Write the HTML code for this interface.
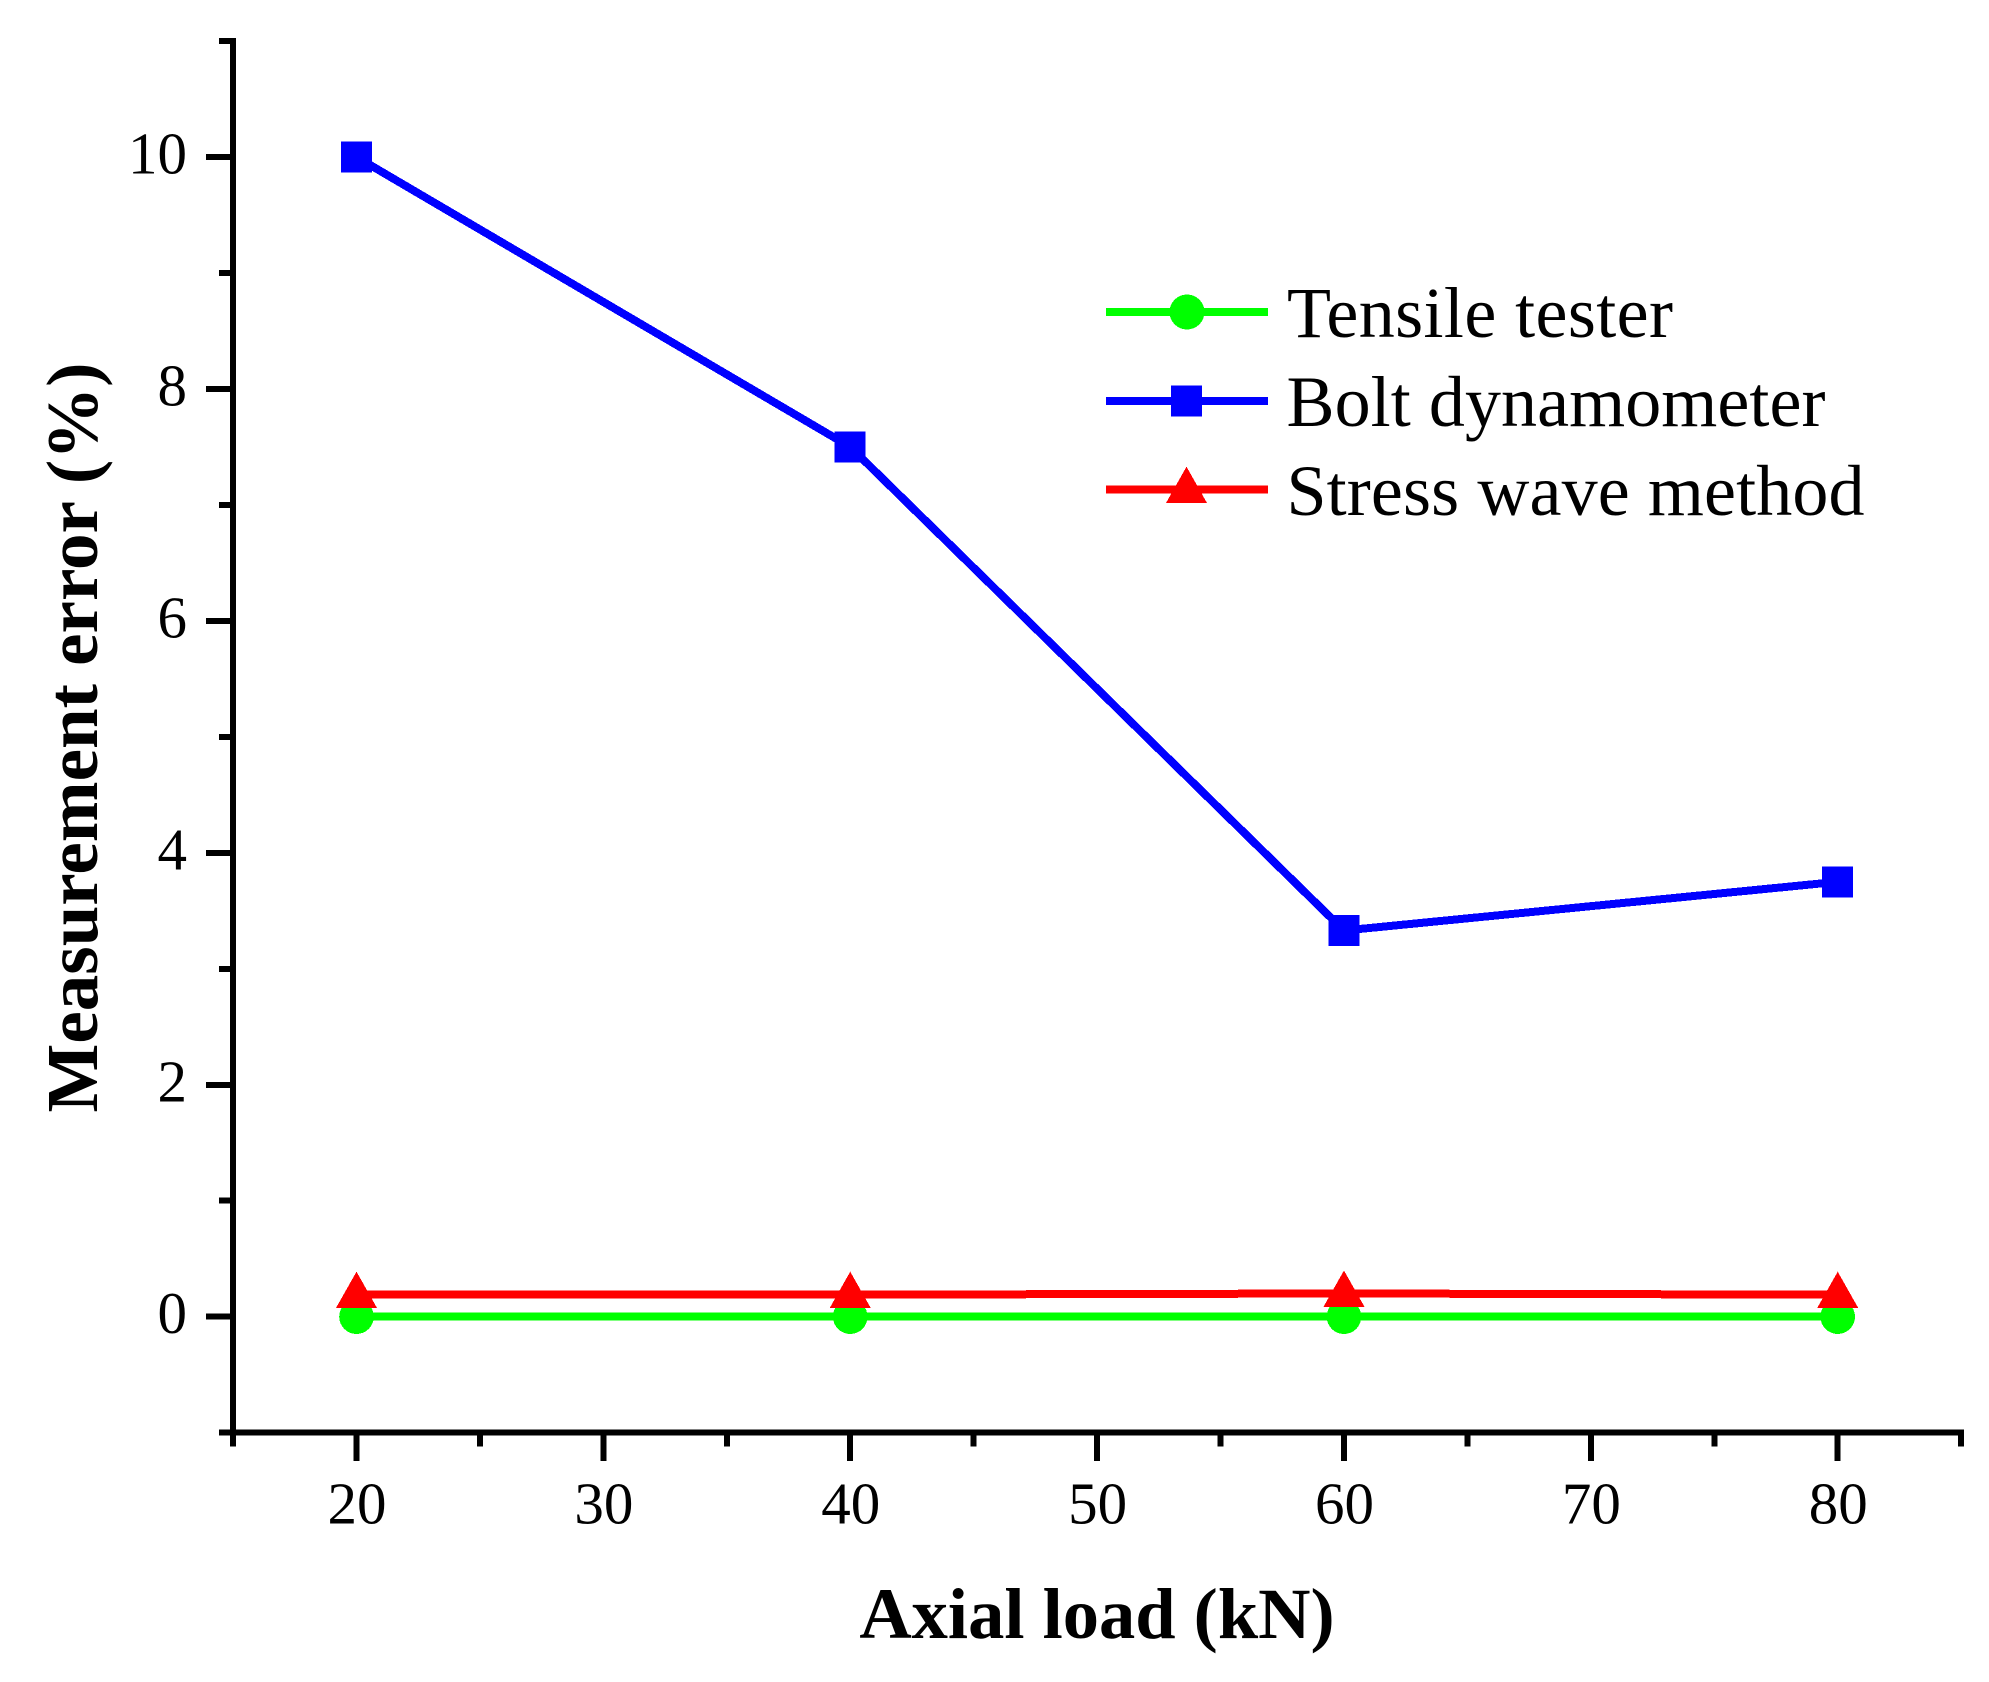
<!DOCTYPE html>
<html lang="en">
<head>
<meta charset="utf-8">
<title>Measurement error vs axial load</title>
<style>
html,body{margin:0;padding:0;background:#fff;width:1989px;height:1682px;overflow:hidden}
svg{display:block}
text{font-family:"Liberation Serif","Times New Roman",serif;fill:#000}
line,polyline,polygon,rect,circle{shape-rendering:crispEdges}
</style>
</head>
<body>
<svg id="chart" xmlns="http://www.w3.org/2000/svg" width="1989" height="1682" viewBox="0 0 1989 1682">
  <rect x="0" y="0" width="1989" height="1682" fill="#fff"/>
  <g id="axes"></g>
  <g id="series"></g>
  <text x="1097" y="1638" font-size="72.5" font-weight="bold" text-anchor="middle">Axial load (kN)</text>
  <text x="0" y="0" font-size="73" font-weight="bold" text-anchor="middle" transform="translate(97 737.5) rotate(-90)">Measurement error (%)</text>
  <g>
    <g>
      <line x1="1106" x2="1268" y1="312" y2="312" stroke="#00ff00" stroke-width="8"/>
      <circle cx="1187" cy="312" r="17.5" fill="#00ff00"/>
      <text x="1287" y="337" font-size="72" textLength="386">Tensile tester</text>
    </g>
    <g>
      <line x1="1106" x2="1268" y1="401" y2="401" stroke="#0000ff" stroke-width="8"/>
      <rect x="1171" y="385.5" width="31" height="31" fill="#0000ff"/>
      <text x="1286.5" y="426" font-size="72" textLength="539">Bolt dynamometer</text>
    </g>
    <g>
      <line x1="1106" x2="1268" y1="489.7" y2="489.7" stroke="#ff0000" stroke-width="8"/>
      <polygon points="1186.5,466.7 1207,503 1166,503" fill="#ff0000"/>
      <text x="1286.5" y="515" font-size="72" textLength="578">Stress wave method</text>
    </g>
  </g>
</svg>
<script>
var categories = [20, 40, 60, 80];
var tensileValues = [0, 0, 0, 0];
var boltValues = [10, 7.5, 3.33, 3.75];
var stressValues = [0.19, 0.19, 0.2, 0.19];
var xMajorTicks = [20, 30, 40, 50, 60, 70, 80];
var xMinorTicks = [15, 25, 35, 45, 55, 65, 75, 85];
var yMajorTicks = [0, 2, 4, 6, 8, 10];
var yMinorTicks = [-1, 1, 3, 5, 7, 9, 11];

var NS = 'http://www.w3.org/2000/svg';
var axesGroup = document.getElementById('axes');
var seriesGroup = document.getElementById('series');

function xScale(v) { return 356.5 + (v - 20) * 24.687; }
function yScale(v) { return 1316.7 - v * 115.97; }

function make(tag, parent, attrs) {
  var el = document.createElementNS(NS, tag);
  for (var k in attrs) { el.setAttribute(k, attrs[k]); }
  parent.appendChild(el);
  return el;
}

var yAxisLine = make('line', axesGroup, { x1: xScale(15), x2: xScale(15), y1: yScale(11) - 3, y2: yScale(-1) + 3, stroke: '#000', 'stroke-width': 6 });



var xAxisLine = make('line', axesGroup, { x1: xScale(15) - 3, x2: xScale(85) + 3, y1: yScale(-1), y2: yScale(-1), stroke: '#000', 'stroke-width': 6 });



xMajorTicks.forEach(function (v) {
  var tick = make('line', axesGroup, { x1: xScale(v), x2: xScale(v), y1: yScale(-1), y2: yScale(-1) + 28.3, stroke: '#000', 'stroke-width': 6 });
  
  
  var label = make('text', axesGroup, { x: xScale(v) + 0.5, y: 1523.5, 'font-size': 59, 'text-anchor': 'middle' });
  label.textContent = String(v);
  
  
});

xMinorTicks.forEach(function (v) {
  var tick = make('line', axesGroup, { x1: xScale(v), x2: xScale(v), y1: yScale(-1), y2: yScale(-1) + 14, stroke: '#000', 'stroke-width': 6 });
  
  
});

yMajorTicks.forEach(function (v) {
  var tick = make('line', axesGroup, { x1: xScale(15), x2: xScale(15) - 27, y1: yScale(v), y2: yScale(v), stroke: '#000', 'stroke-width': 6 });
  
  
  var label = make('text', axesGroup, { x: 187, y: yScale(v) + 16.5, 'font-size': 59, 'text-anchor': 'end' });
  label.textContent = String(v);
  
  
});

yMinorTicks.forEach(function (v) {
  var tick = make('line', axesGroup, { x1: xScale(15), x2: xScale(15) - 14, y1: yScale(v), y2: yScale(v), stroke: '#000', 'stroke-width': 6 });
  
  
});

function linePoints(values) {
  return values.map(function (v, i) { return xScale(categories[i]) + ',' + yScale(v); }).join(' ');
}

var tensileLine = make('polyline', seriesGroup, { points: linePoints(tensileValues), fill: 'none', stroke: '#00ff00', 'stroke-width': 8 });


tensileValues.forEach(function (v, i) {
  var m = make('circle', seriesGroup, { cx: xScale(categories[i]), cy: yScale(v), r: 17.3, fill: '#00ff00' });
  
  
});

var boltLine = make('polyline', seriesGroup, { points: linePoints(boltValues), fill: 'none', stroke: '#0000ff', 'stroke-width': 8, 'stroke-linejoin': 'round' });


boltValues.forEach(function (v, i) {
  var m = make('rect', seriesGroup, { x: xScale(categories[i]) - 15.5, y: yScale(v) - 15.5, width: 31, height: 31, fill: '#0000ff' });
  
  
});

var stressLine = make('polyline', seriesGroup, { points: linePoints(stressValues), fill: 'none', stroke: '#ff0000', 'stroke-width': 8 });


stressValues.forEach(function (v, i) {
  var cx = xScale(categories[i]);
  var cy = yScale(v);
  var m = make('polygon', seriesGroup, { points: cx + ',' + (cy - 23) + ' ' + (cx + 20.5) + ',' + (cy + 13.3) + ' ' + (cx - 20.5) + ',' + (cy + 13.3), fill: '#ff0000' });
  
  
});
</script>
</body>
</html>
